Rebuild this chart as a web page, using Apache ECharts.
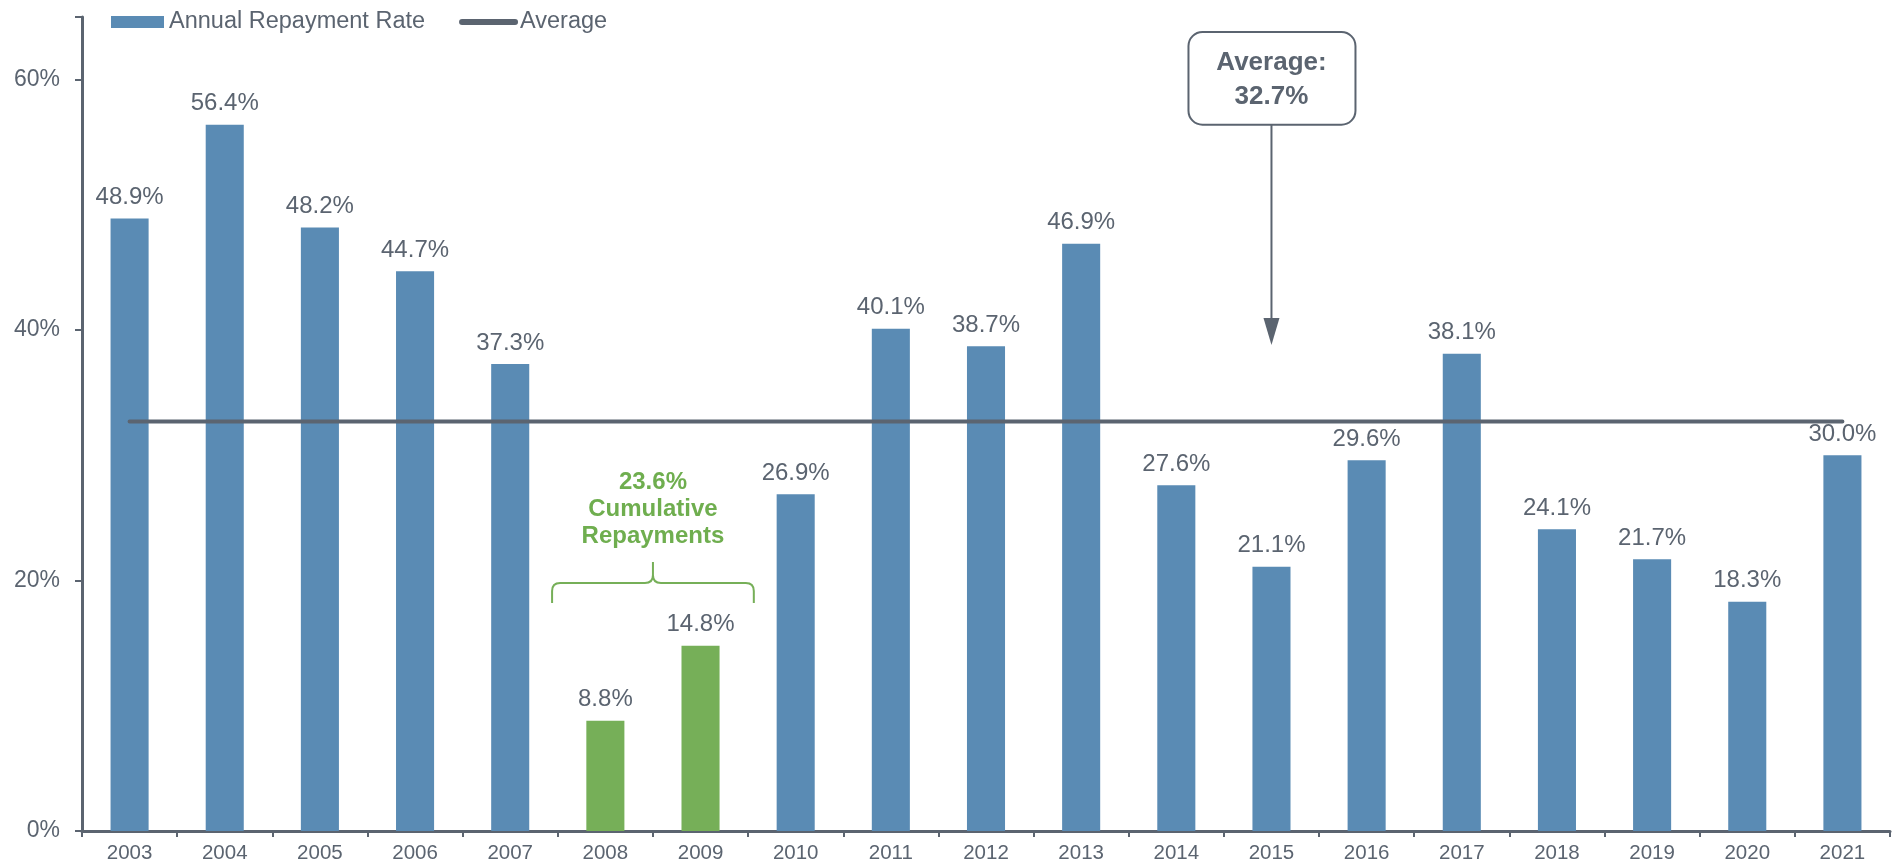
<!DOCTYPE html>
<html>
<head>
<meta charset="utf-8">
<script src="https://cdn.jsdelivr.net/npm/echarts@6/dist/echarts.min.js"></script>
<style>
  html, body { margin: 0; padding: 0; background: #fff; }
  #chart { width: 1902px; height: 867px; }
</style>
</head>
<body>
<div id="chart"></div>
<script>
const years = ['2003', '2004', '2005', '2006', '2007', '2008', '2009', '2010', '2011', '2012',
  '2013', '2014', '2015', '2016', '2017', '2018', '2019', '2020', '2021']
const rates = [48.9, 56.4, 48.2, 44.7, 37.3, 8.8, 14.8, 26.9, 40.1, 38.7,
  46.9, 27.6, 21.1, 29.6, 38.1, 24.1, 21.7, 18.3, 30.0]
const highlightYears = ['2008', '2009']
const average = 32.7
const cumulative = 23.6
const calloutYear = '2015'
const yTicks = [0, 20, 40, 60]

const GRAY = '#5b6470'
const BLUE = '#5a8bb4'
const GREEN = '#76af58'
const GREEN_TEXT = '#6fae4f'
const FONT = '"Liberation Sans", Arial, sans-serif'

const chart = echarts.init(document.getElementById('chart'))

const barData = rates.map((v, i) => ({
  value: v,
  itemStyle: { color: highlightYears.includes(years[i]) ? GREEN : BLUE }
}))

// callout box + arrow pointing at the average line
const renderCallout = (params, api) => {
  const x = api.coord([api.value(0), 0])[0]
  const top = api.coord([0, 63.8])[1]
  const bottom = api.coord([0, 56.4])[1]
  const tip = api.coord([0, 38.8])[1]
  return {
    type: 'group',
    children: [
      {
        type: 'rect',
        shape: { x: x - 83, y: top, width: 167, height: bottom - top, r: 14 },
        style: { fill: '#fff', stroke: GRAY, lineWidth: 2 }
      },
      {
        type: 'text',
        style: {
          text: 'Average:\n' + average.toFixed(1) + '%',
          x: x, y: (top + bottom) / 2 + 1,
          align: 'center', verticalAlign: 'middle',
          font: 'bold 26px ' + FONT, lineHeight: 34, fill: GRAY
        }
      },
      {
        type: 'line',
        shape: { x1: x, y1: bottom, x2: x, y2: tip - 24 },
        style: { stroke: GRAY, lineWidth: 2 }
      },
      {
        type: 'polygon',
        shape: { points: [[x - 8, tip - 27], [x + 8, tip - 27], [x, tip]] },
        style: { fill: GRAY }
      }
    ]
  }
}

// curly brace over the highlighted years
const renderBrace = (params, api) => {
  const i0 = years.indexOf(highlightYears[0])
  const i1 = years.indexOf(highlightYears[1])
  const x0 = api.coord([i0, 0])[0]
  const x1 = api.coord([i1, 0])[0]
  const band = api.size([1, 0])[0]
  const mid = (x0 + x1) / 2
  const l = x0 - 0.56 * band
  const r = x1 + 0.56 * band
  const yb = api.coord([0, 18.2])[1]
  const yh = yb - 20
  const yp = yb - 41
  const path = `M${l},${yb} L${l},${yh + 8} Q${l},${yh} ${l + 8},${yh} L${mid - 8},${yh} Q${mid},${yh} ${mid},${yh - 8} L${mid},${yp} ` +
    `M${mid},${yp} L${mid},${yh - 8} Q${mid},${yh} ${mid + 8},${yh} L${r - 8},${yh} Q${r},${yh} ${r},${yh + 8} L${r},${yb}`
  return {
    type: 'group',
    children: [
      {
        type: 'path',
        shape: { pathData: path },
        style: { fill: null, stroke: GREEN, lineWidth: 2 }
      },
      {
        type: 'text',
        style: {
          text: cumulative.toFixed(1) + '%\nCumulative\nRepayments',
          x: mid, y: yb - 94,
          align: 'center', verticalAlign: 'middle',
          font: 'bold 24px ' + FONT, lineHeight: 27, fill: GREEN_TEXT
        }
      }
    ]
  }
}

const option = {
  animation: false,
  textStyle: { fontFamily: FONT },
  legend: {
    data: [
      { name: 'Annual Repayment Rate', icon: 'rect' },
      { name: 'Average', itemStyle: { opacity: 0 }, lineStyle: { width: 6, cap: 'round' } }
    ],
    left: 106,
    top: 5,
    itemWidth: 53,
    itemHeight: 12,
    itemGap: 34,
    textStyle: { fontSize: 23.5, color: GRAY, fontFamily: FONT }
  },
  grid: { left: 82, right: 12, top: 17, bottom: 36, containLabel: false },
  xAxis: {
    type: 'category',
    data: years,
    axisLine: { lineStyle: { color: GRAY, width: 3 } },
    axisTick: { show: true, length: 6, lineStyle: { color: GRAY, width: 2 } },
    axisLabel: { fontSize: 20.5, color: GRAY, margin: 12 }
  },
  yAxis: {
    type: 'value',
    min: 0,
    max: 65,
    interval: 20,
    axisLine: { show: true, lineStyle: { color: GRAY, width: 3 } },
    axisTick: { show: true, length: 7, lineStyle: { color: GRAY, width: 2 } },
    splitLine: { show: false },
    axisLabel: {
      fontSize: 23, color: GRAY, margin: 22,
      formatter: v => yTicks.includes(v) ? v + '%' : ''
    }
  },
  series: [
    {
      name: 'Annual Repayment Rate',
      type: 'bar',
      data: barData,
      barWidth: '40%',
      itemStyle: { color: BLUE },
      label: {
        show: true,
        position: 'top',
        distance: 9,
        fontSize: 24,
        color: GRAY,
        formatter: p => p.value.toFixed(1) + '%'
      }
    },
    {
      name: 'Average',
      type: 'line',
      data: years.map(() => average),
      symbol: 'none',
      itemStyle: { color: GRAY },
      lineStyle: { color: GRAY, width: 4, cap: 'round' },
      z: 3
    },
    {
      type: 'custom',
      silent: true,
      data: [[calloutYear, average]],
      renderItem: renderCallout,
      z: 4
    },
    {
      type: 'custom',
      silent: true,
      data: [[highlightYears[0], cumulative]],
      renderItem: renderBrace,
      z: 4
    }
  ]
}

chart.setOption(option)
window.addEventListener('resize', () => chart.resize())
</script>
</body>
</html>
